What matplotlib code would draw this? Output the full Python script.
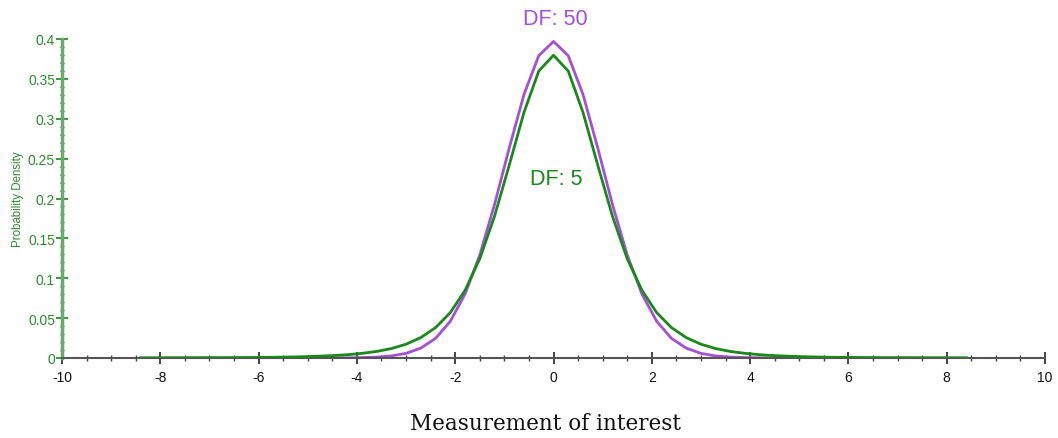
import matplotlib
matplotlib.use('Agg')
import matplotlib.pyplot as plt
from matplotlib.ticker import MultipleLocator, FixedLocator

# Sample points along the measurement axis
x_vals = [-8.4, -8.1, -7.8, -7.5, -7.2, -6.9, -6.6, -6.3, -6.0, -5.7,
          -5.4, -5.1, -4.8, -4.5, -4.2, -3.9, -3.6, -3.3, -3.0, -2.7,
          -2.4, -2.1, -1.8, -1.5, -1.2, -0.9, -0.6, -0.3, 0.0, 0.3,
          0.6, 0.9, 1.2, 1.5, 1.8, 2.1, 2.4, 2.7, 3.0, 3.3,
          3.6, 3.9, 4.2, 4.5, 4.8, 5.1, 5.4, 5.7, 6.0, 6.3,
          6.6, 6.9, 7.2, 7.5, 7.8, 8.1, 8.4]

# Density (DF 5)
dens_df5 = [0.0001, 0.0001, 0.0002, 0.0002, 0.0003, 0.0003, 0.0004, 0.0005, 0.0007, 0.0009,
            0.0012, 0.0016, 0.0022, 0.0030, 0.0041, 0.0058, 0.0082, 0.0118, 0.0173, 0.0256,
            0.0381, 0.0569, 0.0848, 0.1245, 0.1777, 0.2419, 0.3081, 0.3598, 0.3796, 0.3598,
            0.3081, 0.2419, 0.1777, 0.1245, 0.0848, 0.0569, 0.0381, 0.0256, 0.0173, 0.0118,
            0.0082, 0.0058, 0.0041, 0.0030, 0.0022, 0.0016, 0.0012, 0.0009, 0.0007, 0.0005,
            0.0004, 0.0003, 0.0003, 0.0002, 0.0002, 0.0001, 0.0001]

# Density (DF 50)
dens_df50 = [0.0, 0.0, 0.0, 0.0, 0.0, 0.0, 0.0, 0.0, 0.0, 0.0,
             0.0, 0.0, 0.0, 0.0, 0.0002, 0.0005, 0.0011, 0.0026, 0.0058, 0.0124,
             0.0246, 0.0460, 0.0801, 0.1292, 0.1924, 0.2635, 0.3305, 0.3791, 0.3969, 0.3791,
             0.3305, 0.2635, 0.1924, 0.1292, 0.0801, 0.0460, 0.0246, 0.0124, 0.0058, 0.0026,
             0.0011, 0.0005, 0.0002, 0.0, 0.0, 0.0, 0.0, 0.0, 0.0, 0.0,
             0.0, 0.0, 0.0, 0.0, 0.0, 0.0, 0.0]

y_ticks = [0, 0.05, 0.1, 0.15, 0.2, 0.25, 0.3, 0.35, 0.4]
y_labels = ['0', '0.05', '0.1', '0.15', '0.2', '0.25', '0.3', '0.35', '0.4']
x_ticks = [-10, -8, -6, -4, -2, 0, 2, 4, 6, 8, 10]

green = '#1a881a'
purple = '#a44fd8'
axis_green = '#6aaa6a'
label_green = '#2e8b2e'

plt.rcParams['font.family'] = ['Liberation Sans', 'DejaVu Sans']
plt.rcParams['axes.unicode_minus'] = False  # plain hyphens like the original

fig = plt.figure(figsize=(10.58, 4.39), dpi=100)
ax = fig.add_axes([62 / 1058, 80 / 439, 983 / 1058, 319 / 439])

ax.plot(x_vals, dens_df5, color=green, linewidth=2.0, zorder=3)
ax.plot(x_vals, dens_df50, color=purple, linewidth=2.0, zorder=2)

ax.set_xlim(-10, 10)
ax.set_ylim(0, 0.4)

for side in ['top', 'right']:
    ax.spines[side].set_visible(False)
ax.spines['left'].set_color(axis_green)
ax.spines['left'].set_linewidth(2.5)
ax.spines['bottom'].set_color('#555555')
ax.spines['bottom'].set_linewidth(1.5)

ax.xaxis.set_major_locator(FixedLocator(x_ticks))
ax.xaxis.set_minor_locator(MultipleLocator(0.5))
ax.yaxis.set_major_locator(FixedLocator(y_ticks))
ax.set_yticklabels(y_labels)
ax.yaxis.set_minor_locator(MultipleLocator(0.01))

ax.tick_params(axis='x', which='major', direction='inout', length=9, width=1.2,
               color='#222222', labelsize=10, labelcolor='#111111', pad=4)
ax.tick_params(axis='x', which='minor', direction='inout', length=4, width=1,
               color='#444444')
ax.tick_params(axis='y', which='major', direction='inout', length=8, width=1.2,
               color=green, labelsize=10, labelcolor=label_green, pad=1)
ax.tick_params(axis='y', which='minor', direction='inout', length=2.5, width=1,
               color='#444444')

ax.set_ylabel('Probability Density', fontsize=8.3, color=label_green, labelpad=3)

ax.text(0.03, 0.426, 'DF: 50', color=purple, fontsize=15.5, ha='center', va='center',
        clip_on=False)
ax.text(0.05, 0.2257, 'DF: 5', color=green, fontsize=15.5, ha='center', va='center')

fig.text(545 / 1058, 1 - 424 / 439, 'Measurement of interest', fontsize=15.5,
         family='DejaVu Serif', ha='center', va='center', color='#111111')

fig.savefig('out.png', dpi=100)
